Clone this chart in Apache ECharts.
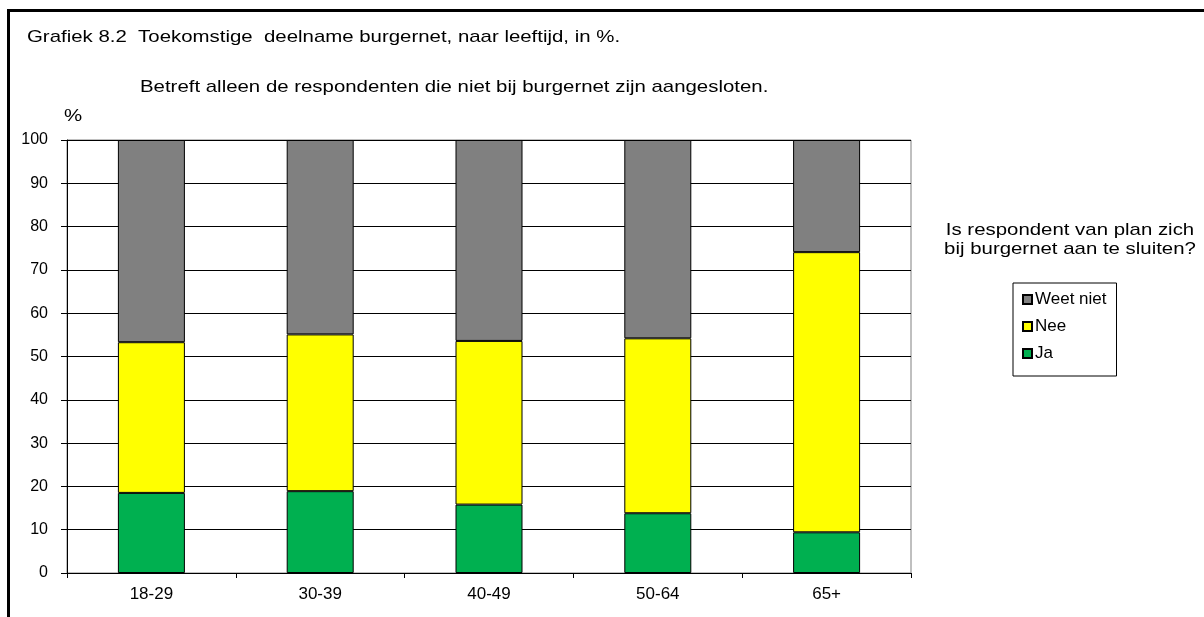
<!DOCTYPE html>
<html>
<head>
<meta charset="utf-8">
<script src="https://cdn.jsdelivr.net/npm/echarts@6/dist/echarts.min.js"></script>
<style>
  html, body { margin: 0; padding: 0; background: #fff; }
  #chart { width: 1204px; height: 617px; }
</style>
</head>
<body>
<div id="chart"></div>
<script>
// leeftijdsgroepen
var categories = ["18-29", "30-39", "40-49", "50-64", "65+"];
// percentages per antwoord
var ja = [18.5, 18.9, 15.8, 13.8, 9.4];
var nee = [34.8, 36.2, 37.8, 40.4, 64.7];
var weetNiet = [46.7, 44.9, 46.4, 45.8, 25.9];
var yTicks = [0, 10, 20, 30, 40, 50, 60, 70, 80, 90, 100];

var font = "Liberation Sans, Arial, sans-serif";
var myChart = echarts.init(document.getElementById("chart"));

// tekst iets breder getrokken, zoals in het origineel
function label(text, x, y, align) {
  return {
    type: "text", silent: true,
    x: x, y: y, scaleX: 1.2,
    style: {
      text: text, fill: "#000",
      font: "17px " + font,
      textAlign: align || "left",
      textVerticalAlign: "middle",
      lineHeight: 19
    }
  };
}

var option = {
  animation: false,
  textStyle: { fontFamily: font, color: "#000" },
  legend: {
    orient: "vertical",
    left: 1013, top: 283,
    padding: [8, 10, 14, 9],
    itemGap: 10,
    itemWidth: 9, itemHeight: 9,
    icon: "rect",
    borderColor: "#000", borderWidth: 1,
    textStyle: { fontFamily: font, fontSize: 17, color: "#000", padding: [0, 0, 0, -2] },
    data: ["Weet niet", "Nee", "Ja"]
  },
  grid: {
    left: 67, right: 293, top: 140, bottom: 44,
    show: true, borderColor: "#808080", borderWidth: 1
  },
  xAxis: {
    type: "category",
    data: categories,
    axisLine: { lineStyle: { color: "#000", width: 1 } },
    axisTick: { show: true, length: 5, lineStyle: { color: "#000" } },
    axisLabel: { fontFamily: font, fontSize: 17, color: "#000", margin: 13 }
  },
  yAxis: {
    type: "value",
    min: 0, max: 100, interval: 10,
    axisLine: { show: true, lineStyle: { color: "#000", width: 1 } },
    axisTick: { show: true, length: 6, lineStyle: { color: "#000" } },
    axisLabel: {
      fontFamily: font, fontSize: 16, color: "#000", margin: 19,
      formatter: function (v) { return yTicks.indexOf(v) >= 0 ? String(v) : ""; }
    },
    splitLine: { show: true, lineStyle: { color: "#000", width: 1 } }
  },
  series: [
    {
      name: "Ja", type: "bar", stack: "totaal", barWidth: 67,
      data: ja,
      itemStyle: { color: "#00B050", borderColor: "#000", borderWidth: 1 }
    },
    {
      name: "Nee", type: "bar", stack: "totaal", barWidth: 67,
      data: nee,
      itemStyle: { color: "#FFFF00", borderColor: "#000", borderWidth: 1 }
    },
    {
      name: "Weet niet", type: "bar", stack: "totaal", barWidth: 67,
      data: weetNiet,
      itemStyle: { color: "#808080", borderColor: "#000", borderWidth: 1 }
    }
  ],
  graphic: [
    label("Grafiek 8.2  Toekomstige  deelname burgernet, naar leeftijd, in %.", 27, 37),
    label("Betreft alleen de respondenten die niet bij burgernet zijn aangesloten.", 140, 87),
    label("%", 64, 116),
    label("Is respondent van plan zich", 1070, 230, "center"),
    label("bij burgernet aan te sluiten?", 1070, 249, "center"),
    {
      type: "line", silent: true,
      shape: { x1: 8.5, y1: 9, x2: 8.5, y2: 617 },
      style: { stroke: "#000", lineWidth: 3 }
    },
    {
      type: "line", silent: true,
      shape: { x1: 7, y1: 10.5, x2: 1204, y2: 10.5 },
      style: { stroke: "#000", lineWidth: 3 }
    }
  ]
};

myChart.setOption(option);
</script>
</body>
</html>
